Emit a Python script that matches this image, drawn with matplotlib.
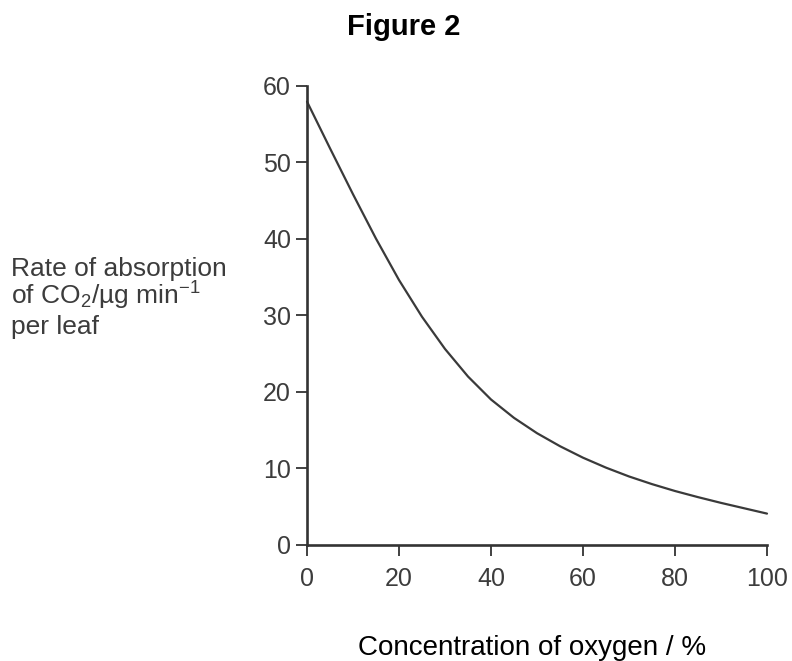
import matplotlib
matplotlib.use("Agg")
import matplotlib.pyplot as plt

# Data
oxygen = [0, 5, 10, 15, 20, 25, 30, 35, 40, 45, 50, 55, 60, 65, 70, 75, 80, 85, 90, 95, 100]
rate = [57.9, 51.8, 45.8, 40.0, 34.6, 29.8, 25.6, 22.0, 19.0, 16.6, 14.6, 12.9,
        11.4, 10.1, 8.95, 7.95, 7.05, 6.25, 5.5, 4.8, 4.1]
x_ticks = [0, 20, 40, 60, 80, 100]
y_ticks = [0, 10, 20, 30, 40, 50, 60]

plt.rcParams['font.family'] = ['Liberation Sans', 'DejaVu Sans']
plt.rcParams['mathtext.fontset'] = 'custom'
plt.rcParams['mathtext.rm'] = 'Liberation Sans'
plt.rcParams['mathtext.it'] = 'Liberation Sans:italic'
plt.rcParams['mathtext.bf'] = 'Liberation Sans:bold'

W, H = 792, 661
fig = plt.figure(figsize=(W / 100, H / 100), dpi=100)
ax = fig.add_axes([307 / W, 1 - 545 / H, (767 - 307) / W, (545 - 85.5) / H])

axis_col = '#333333'
ax.plot(oxygen, rate, color='#3a3a3a', lw=1.6, clip_on=False,
        solid_capstyle='round', solid_joinstyle='round')

ax.set_xlim(0, 100)
ax.set_ylim(0, 60)
ax.set_xticks(x_ticks)
ax.set_yticks(y_ticks)

for s in ['top', 'right']:
    ax.spines[s].set_visible(False)
for s in ['left', 'bottom']:
    ax.spines[s].set_color(axis_col)
    ax.spines[s].set_linewidth(1.9)
    ax.spines[s].set_capstyle('projecting')

ax.tick_params(axis='both', direction='out', length=8, width=1.3, color=axis_col,
               labelsize=18, labelcolor='#3c3c3c')
ax.tick_params(axis='x', pad=8)
ax.tick_params(axis='y', pad=3.5)

# Title
fig.text(404 / W, 1 - 35 / H, 'Figure 2', ha='center', va='baseline',
         fontsize=21, fontweight='bold', color='black')

# X label
fig.text(532 / W, 1 - 655 / H, 'Concentration of oxygen / %', ha='center', va='baseline',
         fontsize=20, color='black')

# Y label (three left-aligned lines)
ylab_col = '#3c3c3c'
fig.text(11 / W, 1 - 276 / H, 'Rate of absorption', ha='left', va='baseline',
         fontsize=19, color=ylab_col)
fig.text(11 / W, 1 - 305 / H, 'of CO$_2$/\u00b5g min$^{-1}$', ha='left', va='baseline',
         fontsize=19, color=ylab_col)
fig.text(11 / W, 1 - 334 / H, 'per leaf', ha='left', va='baseline',
         fontsize=19, color=ylab_col)

fig.savefig('out.png', dpi=100)
